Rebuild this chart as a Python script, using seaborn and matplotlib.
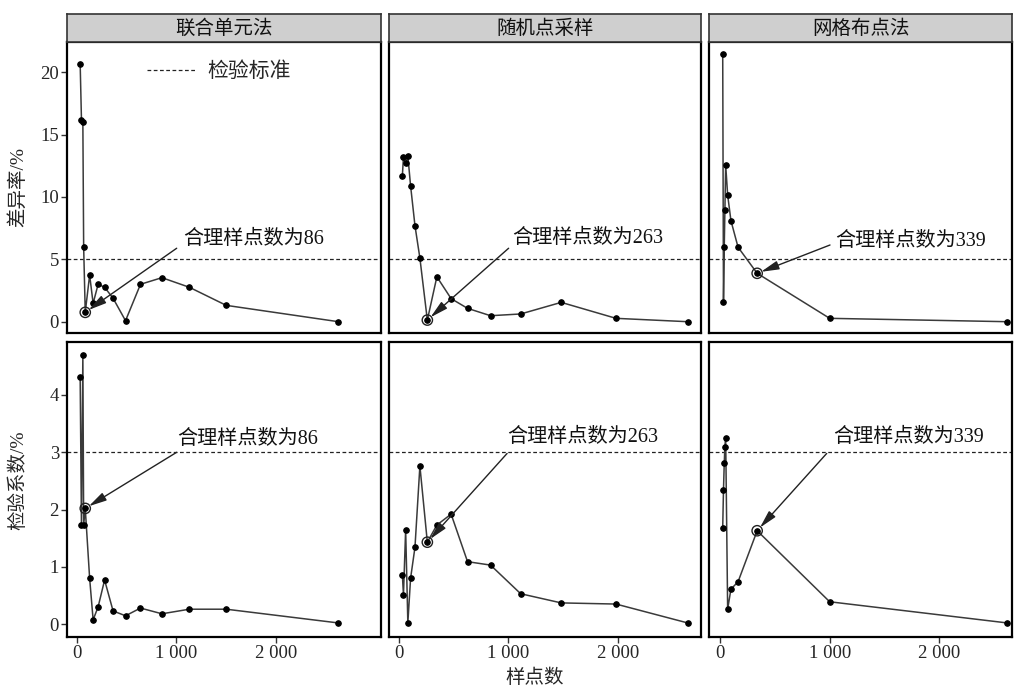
import numpy as np
import pandas as pd
import matplotlib
matplotlib.use("Agg")
import matplotlib.pyplot as plt
import seaborn as sns

# ---------------- data ----------------
methods = ["联合单元法", "随机点采样", "网格布点法"]

x_joint = [35, 48, 62, 70, 86, 130, 165, 215, 280, 365, 490, 640, 855, 1130, 1500, 2625]
diff_joint = [20.7, 16.2, 16.0, 6.0, 0.75, 3.74, 1.47, 3.0, 2.76, 1.88, 0.08, 3.0, 3.53, 2.76, 1.31, 0.0]
coef_joint = [4.32, 1.73, 4.70, 1.73, 2.02, 0.80, 0.075, 0.30, 0.77, 0.23, 0.145, 0.28, 0.18, 0.26, 0.26, 0.02]

x_random = [35, 45, 65, 85, 110, 150, 195, 263, 350, 480, 630, 840, 1115, 1485, 1985, 2640]
diff_random = [11.7, 13.2, 12.7, 13.3, 10.9, 7.7, 5.1, 0.13, 3.6, 1.85, 1.07, 0.48, 0.62, 1.55, 0.27, 0.0]
coef_random = [0.86, 0.51, 1.65, 0.02, 0.80, 1.34, 2.76, 1.43, 1.73, 1.92, 1.09, 1.03, 0.53, 0.37, 0.35, 0.02]

x_grid = [25, 32, 39, 45, 52, 70, 100, 165, 339, 1000, 2620]
diff_grid = [21.5, 1.6, 6.0, 8.96, 12.57, 10.16, 8.1, 5.97, 3.88, 0.27, 0.0]
coef_grid = [1.68, 2.34, 2.81, 3.10, 3.25, 0.26, 0.61, 0.74, 1.63, 0.39, 0.02]

reasonable_n = [86, 263, 339]
diff_standard = 5
coef_standard = 3

x_ticks = [0, 1000, 2000]
x_tick_labels = ["0", "1 000", "2 000"]
diff_ticks = [0, 5, 10, 15, 20]
coef_ticks = [0, 1, 2, 3, 4]

row_labels = ["差异率/%", "检验系数/%"]
legend_label = "检验标准"
x_label = "样点数"

# ---------------- build table ----------------
xs = [x_joint, x_random, x_grid]
diffs = [diff_joint, diff_random, diff_grid]
coefs = [coef_joint, coef_random, coef_grid]
frames = []
for m, x, d, c in zip(methods, xs, diffs, coefs):
    frames.append(pd.DataFrame({"method": m, "n": x, "diff": d, "coef": c}))
df = pd.concat(frames, ignore_index=True)

# ---------------- style ----------------
sns.set_theme(style="white")
plt.rcParams["font.family"] = ["Liberation Serif", "Noto Sans CJK SC", "DejaVu Sans"]
plt.rcParams["axes.unicode_minus"] = False

fig = plt.figure(figsize=(10.15, 6.92), dpi=100)
W, H = 1015, 692

col_px = [(67.3, 380.7), (389, 701), (709, 1012)]
row_px = [(41.7, 333.3), (342.3, 636.7)]
xlims = [(-94, 3049), (-87, 2761), (-100, 2662)]
ylims = [(-0.93, 22.45), (-0.22, 4.92)]
metrics = ["diff", "coef"]
standards = [diff_standard, coef_standard]
yticks = [diff_ticks, coef_ticks]

# annotation layout (text pos, arrow tail) per row/col
text_pos = [[(1069, 6.63), (1037, 6.69), (1048, 6.42)],
            [(1003, 3.23), (991, 3.26), (1033, 3.26)]]
tail_pos = [[(1003, 5.89), (1005, 5.89), (1003, 6.15)],
            [(1003, 3.00), (991, 2.98), (973, 2.98)]]

for r in range(2):
    for c in range(3):
        l, rr = col_px[c]
        t, b = row_px[r]
        ax = fig.add_axes([l / W, 1 - b / H, (rr - l) / W, (b - t) / H])
        sub = df[df["method"] == methods[c]]
        sns.lineplot(data=sub, x="n", y=metrics[r], ax=ax, estimator=None, sort=True,
                     color="#3a3a3a", lw=1.1, marker="o", markersize=4.0,
                     markerfacecolor="black", markeredgecolor="black", legend=False)
        ax.axhline(standards[r], color="#222222", lw=0.9, ls=(0, (3, 2)),
                   label=legend_label, zorder=1)
        # reasonable point
        xi = reasonable_n[c]
        yi = sub.loc[sub["n"] == xi, metrics[r]].values[0]
        ax.scatter([xi], [yi], s=55, facecolors="none", edgecolors="#222222",
                   linewidths=1.0, zorder=5)
        ax.annotate("", xy=(xi, yi), xytext=tail_pos[r][c],
                    arrowprops=dict(arrowstyle="-|>,head_length=0.9,head_width=0.22",
                                    color="#222222", lw=1.0, shrinkA=0, shrinkB=3))
        ax.text(text_pos[r][c][0], text_pos[r][c][1], f"合理样点数为{xi}",
                fontsize=14.5, ha="left", va="center", color="#111111")

        ax.set_xlim(*xlims[c])
        ax.set_ylim(*ylims[r])
        ax.set_xlabel("")
        ax.set_ylabel("")
        ax.set_facecolor("white")
        for s in ax.spines.values():
            s.set_color("black")
            s.set_linewidth(1.6)
        ax.set_xticks(x_ticks)
        ax.set_yticks(yticks[r])
        ax.tick_params(direction="out", length=4, width=1.0, color="#333333",
                       labelsize=13.5, pad=2)
        if r == 0:
            ax.tick_params(axis="x", bottom=False, labelbottom=False)
        else:
            ax.set_xticklabels(x_tick_labels)
            ax.tick_params(axis="x", bottom=True)
        if c == 0:
            ax.tick_params(axis="y", left=True)
        else:
            ax.tick_params(axis="y", left=False, labelleft=False)

        if r == 0 and c == 0:
            ax.legend(loc="center left", bbox_to_anchor=(0.254, 0.896), frameon=False,
                      borderpad=0, borderaxespad=0, handlelength=2.4, handletextpad=0.5,
                      prop={"size": 15})

        if r == 0:
            sax = fig.add_axes([l / W, 1 - 41.7 / H, (rr - l) / W, 28 / H])
            sax.set_facecolor("#cfcfcf")
            sax.set_xticks([])
            sax.set_yticks([])
            for s in sax.spines.values():
                s.set_color("#333333")
                s.set_linewidth(1.2)
            sax.text(0.5, 0.47, methods[c], ha="center", va="center", fontsize=14,
                     transform=sax.transAxes, color="#111111")

fig.text(18 / W, 1 - 187 / H, row_labels[0], rotation=90, ha="center", va="center", fontsize=14)
fig.text(18 / W, 1 - 480 / H, row_labels[1], rotation=90, ha="center", va="center", fontsize=14)
fig.text(535 / W, 1 - 678 / H, x_label, ha="center", va="center", fontsize=14)

fig.savefig("out.png", dpi=100, facecolor="white")
